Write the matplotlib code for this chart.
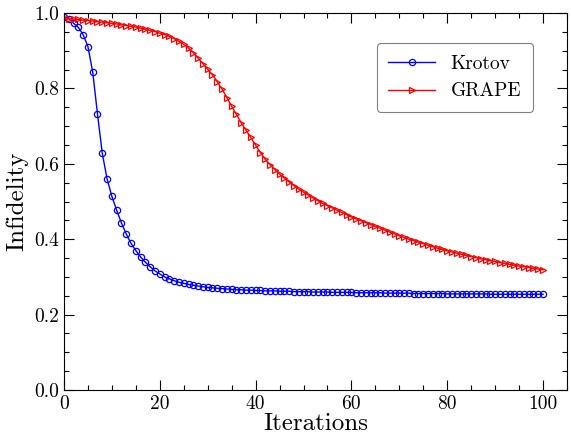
import numpy as np
import matplotlib
matplotlib.use('Agg')
import matplotlib.pyplot as plt
from matplotlib.ticker import MultipleLocator

plt.rcParams['font.family'] = 'serif'
plt.rcParams['font.serif'] = ['cmr10']
plt.rcParams['mathtext.fontset'] = 'cm'
plt.rcParams['axes.formatter.use_mathtext'] = True

iterations = list(range(0, 101))

krotov = [0.990, 0.985, 0.973, 0.962, 0.943, 0.911, 0.844, 0.732, 0.628, 0.560,
          0.514, 0.477, 0.443, 0.414, 0.389, 0.370, 0.353, 0.339, 0.327, 0.316,
          0.308, 0.300, 0.295, 0.290, 0.286, 0.283, 0.280, 0.278, 0.276, 0.274,
          0.272, 0.271, 0.270, 0.269, 0.268, 0.267, 0.266, 0.266, 0.265, 0.265,
          0.264, 0.264, 0.263, 0.263, 0.263, 0.262, 0.262, 0.262, 0.261, 0.261,
          0.261, 0.261, 0.260, 0.260, 0.260, 0.260, 0.259, 0.259, 0.259, 0.259,
          0.259, 0.258, 0.258, 0.258, 0.258, 0.258, 0.258, 0.257, 0.257, 0.257,
          0.257, 0.257, 0.257, 0.256, 0.256, 0.256, 0.256, 0.256, 0.256, 0.256,
          0.255, 0.255, 0.255, 0.255, 0.255, 0.255, 0.255, 0.255, 0.255, 0.254,
          0.254, 0.254, 0.254, 0.254, 0.254, 0.254, 0.254, 0.254, 0.254, 0.254,
          0.254]

grape = [0.987, 0.985, 0.984, 0.983, 0.981, 0.980, 0.979, 0.977, 0.976, 0.974,
         0.973, 0.971, 0.969, 0.967, 0.965, 0.963, 0.960, 0.957, 0.954, 0.951,
         0.947, 0.943, 0.938, 0.932, 0.925, 0.917, 0.907, 0.895, 0.880, 0.866,
         0.851, 0.836, 0.818, 0.798, 0.776, 0.753, 0.731, 0.709, 0.689, 0.670,
         0.650, 0.630, 0.612, 0.598, 0.585, 0.573, 0.562, 0.552, 0.542, 0.533,
         0.525, 0.517, 0.509, 0.502, 0.495, 0.489, 0.483, 0.477, 0.471, 0.465,
         0.459, 0.454, 0.449, 0.444, 0.439, 0.434, 0.429, 0.424, 0.419, 0.414,
         0.409, 0.405, 0.400, 0.396, 0.392, 0.388, 0.384, 0.380, 0.376, 0.373,
         0.369, 0.366, 0.363, 0.360, 0.357, 0.354, 0.351, 0.348, 0.346, 0.343,
         0.341, 0.338, 0.336, 0.333, 0.331, 0.329, 0.327, 0.325, 0.323, 0.321,
         0.319]

fig = plt.figure(figsize=(5.71, 4.36), dpi=100)
ax = fig.add_axes([0.112, 0.1055, 0.881, 0.8645])

ax.plot(iterations, krotov, color='blue', lw=1.0, marker='o', ms=4.5,
        mfc='none', mec='blue', mew=0.9, label='Krotov')
ax.plot(iterations, grape, color='red', lw=1.0, marker='>', ms=4.5,
        mfc='none', mec='red', mew=0.9, label='GRAPE')

ax.set_xlim(0, 105)
ax.set_ylim(0, 1.0)
ax.xaxis.set_minor_locator(MultipleLocator(5))
ax.yaxis.set_minor_locator(MultipleLocator(0.05))
ax.tick_params(which='both', direction='in', top=True, right=True, labelsize=14)
ax.tick_params(which='major', length=7, width=0.8)
ax.tick_params(which='minor', length=3.5, width=0.8)
ax.set_xticks([0, 20, 40, 60, 80, 100])
ax.set_xticklabels(['0', '20', '40', '60', '80', '100'])
ax.set_yticks([0.0, 0.2, 0.4, 0.6, 0.8, 1.0])
ax.set_yticklabels(['0.0', '0.2', '0.4', '0.6', '0.8', '1.0'])

ax.set_xlabel('Iterations', fontsize=18, labelpad=0)
ax.set_ylabel('Infidelity', fontsize=18, labelpad=4)

leg = ax.legend(loc='upper right', bbox_to_anchor=(0.932, 0.92), fontsize=14,
                numpoints=1, handlelength=2.4, fancybox=True, framealpha=1,
                edgecolor='gray', borderpad=0.6, labelspacing=0.5,
                borderaxespad=0)
leg.get_frame().set_linewidth(0.8)

fig.savefig('out.png', dpi=100)
